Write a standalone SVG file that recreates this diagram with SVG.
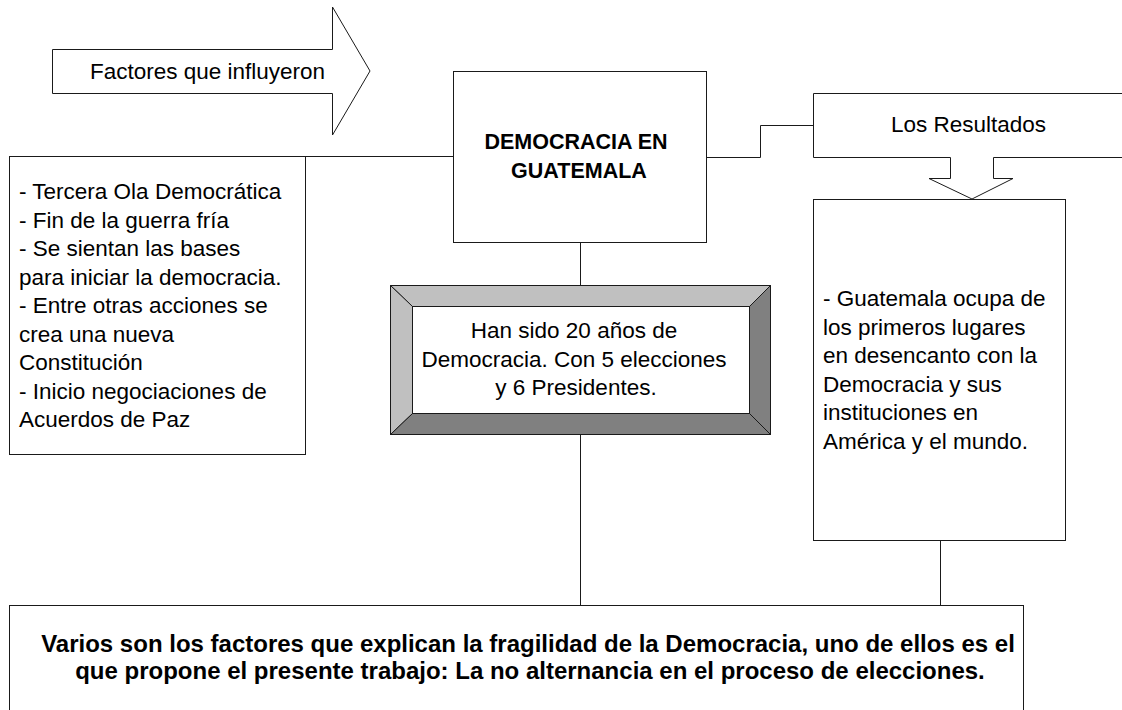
<svg xmlns="http://www.w3.org/2000/svg" width="1122" height="710" viewBox="0 0 1122 710">
<style>
.shape{fill:#fff;stroke:#1a1a1a;stroke-width:1}
.conn{fill:none;stroke:#1a1a1a;stroke-width:1}
.t{font-family:"Liberation Sans",Arial,sans-serif;font-size:22.5px;fill:#000}
.b{font-family:"Liberation Sans",Arial,sans-serif;font-weight:bold;fill:#000}
.light{fill:#c0c0c0;stroke:#1a1a1a;stroke-width:1}
.dark{fill:#808080;stroke:#1a1a1a;stroke-width:1}
</style>
<rect width="1122" height="710" fill="#fff"/>
<g id="connectors">
<path class="conn" d="M306,156.5 H453"/>
<path class="conn" d="M707,157.5 H760.5 V125.5 H813"/>
<path class="conn" d="M580.5,242 V285"/>
<path class="conn" d="M580.5,434 V606"/>
<path class="conn" d="M940.5,541 V606"/>
</g>
<g id="factores-arrow">
<polygon class="shape" points="52.5,49.5 332.5,49.5 332.5,7 370,71 332.5,135 332.5,93.5 52.5,93.5"/>
<text class="t" x="90" y="79">Factores que influyeron</text>
</g>
<g id="factores-box">
<rect class="shape" x="9.5" y="156.5" width="296" height="298"/>
<text class="t" x="19" y="199">- Tercera Ola Democrática</text>
<text class="t" x="19" y="227.5">- Fin de la guerra fría</text>
<text class="t" x="19" y="256">- Se sientan las bases</text>
<text class="t" x="19" y="284.5">para iniciar la democracia.</text>
<text class="t" x="19" y="313">- Entre otras acciones se</text>
<text class="t" x="19" y="341.5">crea una nueva</text>
<text class="t" x="19" y="370">Constitución</text>
<text class="t" x="19" y="398.5">- Inicio negociaciones de</text>
<text class="t" x="19" y="427">Acuerdos de Paz</text>
</g>
<g id="democracia">
<rect class="shape" x="453.5" y="71.5" width="253" height="171"/>
<text class="b" font-size="21.5" text-anchor="middle" x="576" y="149">DEMOCRACIA EN</text>
<text class="b" font-size="21.5" text-anchor="middle" x="579" y="178">GUATEMALA</text>
</g>
<g id="veinte-anos">
<rect class="shape" x="390.5" y="285.5" width="380" height="149"/>
<polygon class="light" points="390.5,285.5 770.5,285.5 749.5,306.5 412.5,306.5"/>
<polygon class="light" points="390.5,285.5 412.5,306.5 412.5,413.5 390.5,434.5"/>
<polygon class="dark" points="770.5,285.5 770.5,434.5 749.5,413.5 749.5,306.5"/>
<polygon class="dark" points="390.5,434.5 412.5,413.5 749.5,413.5 770.5,434.5"/>
<rect class="shape" x="412.5" y="306.5" width="337" height="107"/>
<text class="t" text-anchor="middle" x="574" y="338">Han sido 20 años de</text>
<text class="t" text-anchor="middle" x="574" y="366.5">Democracia. Con 5 elecciones</text>
<text class="t" text-anchor="middle" x="576" y="395">y 6 Presidentes.</text>
</g>
<g id="resultados-callout">
<path class="shape" d="M1123,93.5 H813.5 V157.5 H950.5 V178.5 H929 L972,199 L1013,178.5 H993.5 V157.5 H1123"/>
<text class="t" x="891" y="132">Los Resultados</text>
</g>
<g id="resultados-box">
<rect class="shape" x="813.5" y="199.5" width="252" height="341"/>
<text class="t" x="823" y="306">- Guatemala ocupa de</text>
<text class="t" x="823" y="334.5">los primeros lugares</text>
<text class="t" x="823" y="363">en desencanto con la</text>
<text class="t" x="823" y="391.5">Democracia y sus</text>
<text class="t" x="823" y="420">instituciones en</text>
<text class="t" x="823" y="448.5">América y el mundo.</text>
</g>
<g id="conclusion">
<rect class="shape" x="9.5" y="605.5" width="1014" height="130"/>
<text class="b" font-size="24" text-anchor="middle" x="528" y="652">Varios son los factores que explican la fragilidad de la Democracia, uno de ellos es el</text>
<text class="b" font-size="24" text-anchor="middle" x="530" y="679">que propone el presente trabajo: La no alternancia en el proceso de elecciones.</text>
</g>
</svg>
